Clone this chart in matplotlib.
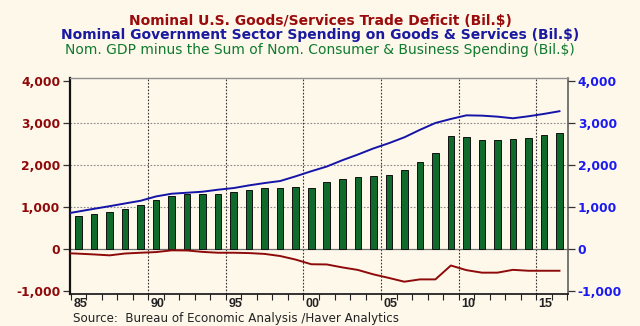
import numpy as np
import matplotlib
matplotlib.use("Agg")
import matplotlib.pyplot as plt
from matplotlib.ticker import FixedLocator, FuncFormatter

plt.rcParams['font.family'] = ['DejaVu Sans']

# Annual data (billions of dollars)
years = list(range(1985, 2017))
gdp_minus_c_i = [785, 830, 878, 950, 1062, 1165, 1263, 1308, 1306, 1306,
                 1358, 1415, 1455, 1455, 1471, 1455, 1590, 1670, 1714, 1730,
                 1770, 1877, 2084, 2288, 2685, 2668, 2585, 2585, 2625, 2645,
                 2716, 2756]

# Line series start one year earlier so the line enters from the left edge
line_years = list(range(1984, 2017))
gov_spending = [834, 898, 962, 1024, 1089, 1153, 1256, 1320, 1344, 1368,
                1416, 1455, 1519, 1574, 1622, 1734, 1854, 1966, 2115, 2250,
                2395, 2520, 2660, 2837, 3000, 3096, 3182, 3175, 3151, 3112,
                3160, 3216, 3280]
trade_balance = [-88, -104, -122, -144, -100, -82, -66, -25, -28, -62,
                 -82, -82, -90, -110, -160, -245, -355, -360, -430, -490,
                 -595, -680, -770, -715, -715, -385, -495, -555, -555, -488,
                 -510, -510, -510]

year_labels = ['85', '90', '95', '00', '05', '10', '15']
label_years = [1985, 1990, 1995, 2000, 2005, 2010, 2015]
y_ticks = [-1000, 0, 1000, 2000, 3000, 4000]

BG = '#FEF8EB'
RED = '#8E0A0A'
BLUE = '#1414A8'
GREEN = '#0E6B2C'

fig = plt.figure(figsize=(6.4, 3.26), dpi=100, facecolor=BG)
ax = fig.add_axes([70/640, 1-294/326, (568-70)/640, (294-78)/326])
ax.set_facecolor(BG)

x_bar = np.array(years) + 0.5
x_line = np.array(line_years) + 0.5

ax.bar(x_bar, gdp_minus_c_i, width=0.42, color=GREEN, edgecolor='#111111',
       linewidth=0.7, zorder=3)
ax.plot(x_line, gov_spending, color=BLUE, lw=1.4, zorder=4)
ax.plot(x_line, trade_balance, color=RED, lw=1.4, zorder=4)

ax.set_xlim(1984.95, 2017.05)
ax.set_ylim(-1062, 4069)

# grid
for v in [1000, 2000, 3000]:
    ax.axhline(v, color='#8a8a8a', lw=0.8, ls=(0, (1.5, 1.5)), zorder=1)
ax.axhline(0, color='#707070', lw=0.9, zorder=2)
for yr in label_years[1:]:
    ax.axvline(yr, color='#333333', lw=0.8, ls=(0, (1.5, 1.5)), zorder=1)

# spines
ax.spines['left'].set_color('#111111')
ax.spines['left'].set_linewidth(1.6)
ax.spines['bottom'].set_color('#111111')
ax.spines['bottom'].set_linewidth(1.2)
ax.spines['right'].set_color('#606060')
ax.spines['right'].set_linewidth(1.2)
ax.spines['top'].set_color('#909090')
ax.spines['top'].set_linewidth(1.0)

# x axis: year ticks, labels placed just right of each fifth year
ax.xaxis.set_minor_locator(FixedLocator(list(range(1985, 2018))))
ax.set_xticks([y + 0.6 for y in label_years])
ax.set_xticklabels(year_labels, fontsize=9, fontweight='bold', color='#222222',
                   family=['Liberation Sans', 'DejaVu Sans'])
ax.tick_params(axis='x', which='major', length=0, pad=3)
ax.tick_params(axis='x', which='minor', length=4, direction='out',
               color='#222222', width=0.8)

fmt = FuncFormatter(lambda v, p: f"{int(v):,}")
ax.set_yticks(y_ticks)
ax.yaxis.set_major_formatter(fmt)
ax.tick_params(axis='y', length=5, direction='out', width=0.9, color='#333333',
               labelsize=8.8, labelcolor=RED, pad=2)
for t in ax.get_yticklabels():
    t.set_fontweight('bold')

ax2 = ax.twinx()
ax2.set_ylim(ax.get_ylim())
ax2.set_yticks(y_ticks)
ax2.yaxis.set_major_formatter(fmt)
ax2.tick_params(axis='y', length=5, direction='out', width=0.9, color='#333333',
                labelsize=8.8, labelcolor='#1A1AF0', pad=2)
for t in ax2.get_yticklabels():
    t.set_fontweight('bold')
for s in ax2.spines.values():
    s.set_visible(False)

# titles
fig.text(0.5, 1-21/326, 'Nominal U.S. Goods/Services Trade Deficit (Bil.$)',
         ha='center', va='center', fontsize=10, fontweight='bold', color='#9A0C0C')
fig.text(0.5, 1-35.5/326, 'Nominal Government Sector Spending on Goods & Services (Bil.$)',
         ha='center', va='center', fontsize=10, fontweight='bold', color='#1A1AA0')
fig.text(0.5, 1-50/326, 'Nom. GDP minus the Sum of Nom. Consumer & Business Spending (Bil.$)',
         ha='center', va='center', fontsize=10, color='#0E7A2E')

fig.text(73/640, 1-318.5/326, 'Source:  Bureau of Economic Analysis /Haver Analytics',
         ha='left', va='center', fontsize=8.6, color='#222222')

fig.savefig('out.png', dpi=100, facecolor=BG)
